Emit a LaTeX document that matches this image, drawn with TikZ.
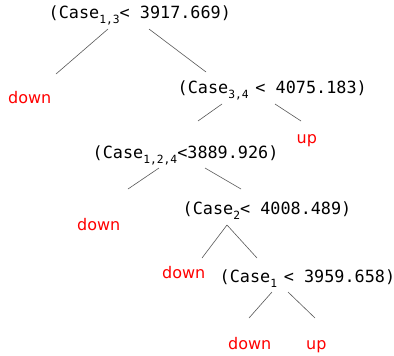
\documentclass[tikz,border=0pt]{standalone}
\usepackage{fontspec}
\setmainfont{DejaVu Sans}
\newfontfamily\monof{DejaVu Sans Mono}
% lowered index set in a smaller size of the current (mono) family
\newcommand\subidx[1]{\raisebox{-5pt}{\fontsize{11.3pt}{11.3pt}\selectfont #1}}
\begin{document}
\begin{tikzpicture}[x=1pt,y=1pt,
  test/.style={inner sep=0pt,anchor=base west,
    font=\monof\fontsize{16.8pt}{18pt}\selectfont},
  leaf/.style={inner sep=0pt,anchor=base west,text=red,
    font=\fontsize{16pt}{18pt}\selectfont},
  branch/.style={draw=black!65,line width=0.6pt}]
\fill[white] (0,0) rectangle (394,-356);
\useasboundingbox (0,0) rectangle (394,-356);

% split tests
\node[test] (n1) at (48.5,-19)   {(Case\subidx{1,3}< 3917.669)};
\node[test] (n2) at (177.5,-93.3){(Case\subidx{3,4\ }< 4075.183)};
\node[test] (n3) at (92.5,-158.3){(Case\subidx{1,2,4}<3889.926)};
\node[test] (n4) at (182.5,-214.3){(Case\subidx{2}< 4008.489)};
\node[test] (n5) at (219.5,-282.3){(Case\subidx{1\ }< 3959.658)};

% leaves
\node[leaf] (d1) at (8,-103.3)    {down};
\node[leaf] (u1) at (296.5,-143.5){up};
\node[leaf] (d2) at (77,-230.7)   {down};
\node[leaf] (d3) at (162,-278.3)  {down};
\node[leaf] (d4) at (228,-349)    {down};
\node[leaf] (u4) at (306,-349)    {up};

% branches
\draw[branch] ([shift={(59.5,-10)}]n1.base west)  -- ([shift={(48,29.3)}]d1.base west);
\draw[branch] ([shift={(100.5,-10)}]n1.base west) -- ([shift={(28.5,21.3)}]n2.base west);
\draw[branch] ([shift={(44.5,-10.7)}]n2.base west) -- ([shift={(105.5,37.3)}]n3.base west);
\draw[branch] ([shift={(97.5,-10.7)}]n2.base west) -- ([shift={(4.5,22.5)}]u1.base west);
\draw[branch] ([shift={(66.5,-9.7)}]n3.base west)  -- ([shift={(51,41.7)}]d2.base west);
\draw[branch] ([shift={(112.5,-9.7)}]n3.base west) -- ([shift={(58.5,25.3)}]n4.base west);
\draw[branch] ([shift={(44.5,-10.7)}]n4.base west) -- ([shift={(40,20.3)}]d3.base west);
\draw[branch] ([shift={(44.5,-10.7)}]n4.base west) -- ([shift={(37.5,24.3)}]n5.base west);
\draw[branch] ([shift={(52.5,-9.7)}]n5.base west)  -- ([shift={(21,31)}]d4.base west);
\draw[branch] ([shift={(68.5,-9.7)}]n5.base west)  -- ([shift={(9,31)}]u4.base west);
\end{tikzpicture}
\end{document}
